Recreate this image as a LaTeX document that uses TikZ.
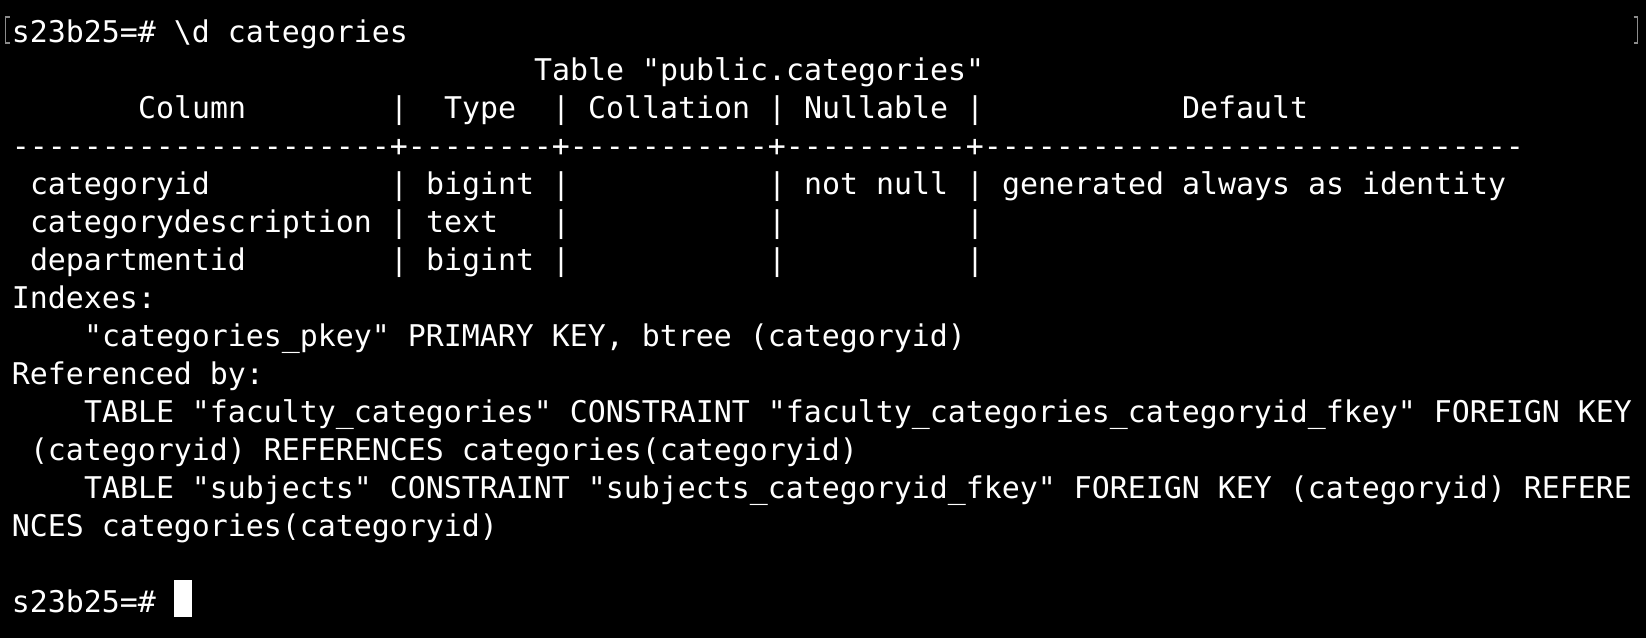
\documentclass[tikz,border=0pt]{standalone}
\usepackage{fontspec}
\setmonofont{DejaVu Sans Mono}
\tikzset{
  termtext/.style={anchor=base west, inner sep=0pt, outer sep=0pt, text=white,
    font=\ttfamily\fontsize{29.9}{38}\selectfont},
  markbracket/.style={draw=gray!90, line width=1.4pt},
}
\newcommand\tcell[4]{\node[termtext] (#1) at ({12+18*(#2)},{42+38*(#3)}) {\frenchspacing #4};}
\begin{document}
\begin{tikzpicture}[x=1pt,y=-1pt]
\fill[black] (0,0) rectangle (1646,638);
\useasboundingbox (0,0) rectangle (1646,638);
% mark brackets
\draw[markbracket] (9.5,17) -- (5.5,17) -- (5.5,43) -- (9.5,43);
\draw[markbracket] (1633.5,17) -- (1637.5,17) -- (1637.5,43) -- (1633.5,43);
% row 0
\tcell{prompt1}{0}{0}{s23b25=\# \textbackslash d categories}
% row 1
\tcell{title}{29}{1}{Table "public.categories"}
% row 2 header
\tcell{hcol}{7}{2}{Column}
\tcell{hp1}{21}{2}{|}
\tcell{htype}{24}{2}{Type}
\tcell{hp2}{30}{2}{|}
\tcell{hcoll}{32}{2}{Collation}
\tcell{hp3}{42}{2}{|}
\tcell{hnull}{44}{2}{Nullable}
\tcell{hp4}{53}{2}{|}
\tcell{hdef}{65}{2}{Default}
% row 3 separator
\tcell{sep}{0}{3}{{----------}{----------}{-}+{--------}+{----------}{-}+{----------}+{----------}{----------}{----------}}
% row 4
\tcell{r1c1}{1}{4}{categoryid}
\tcell{r1p1}{21}{4}{|}
\tcell{r1c2}{23}{4}{bigint}
\tcell{r1p2}{30}{4}{|}
\tcell{r1p3}{42}{4}{|}
\tcell{r1c4}{44}{4}{not null}
\tcell{r1p4}{53}{4}{|}
\tcell{r1c5}{55}{4}{generated always as identity}
% row 5
\tcell{r2c1}{1}{5}{categorydescription}
\tcell{r2p1}{21}{5}{|}
\tcell{r2c2}{23}{5}{text}
\tcell{r2p2}{30}{5}{|}
\tcell{r2p3}{42}{5}{|}
\tcell{r2p4}{53}{5}{|}
% row 6
\tcell{r3c1}{1}{6}{departmentid}
\tcell{r3p1}{21}{6}{|}
\tcell{r3c2}{23}{6}{bigint}
\tcell{r3p2}{30}{6}{|}
\tcell{r3p3}{42}{6}{|}
\tcell{r3p4}{53}{6}{|}
% rows 7-13
\tcell{idx}{0}{7}{Indexes:}
\tcell{idx1}{4}{8}{"categories\_pkey" PRIMARY KEY, btree (categoryid)}
\tcell{ref}{0}{9}{Referenced by:}
\tcell{ref1a}{4}{10}{TABLE "faculty\_categories" CONSTRAINT "faculty\_categories\_categoryid\_fkey" FOREIGN KEY}
\tcell{ref1b}{1}{11}{(categoryid) REFERENCES categories(categoryid)}
\tcell{ref2a}{4}{12}{TABLE "subjects" CONSTRAINT "subjects\_categoryid\_fkey" FOREIGN KEY (categoryid) REFERE}
\tcell{ref2b}{0}{13}{NCES categories(categoryid)}
% row 15
\tcell{prompt2}{0}{15}{s23b25=\#}
\fill[white] (174,580) rectangle (192,617);
\end{tikzpicture}
\end{document}
